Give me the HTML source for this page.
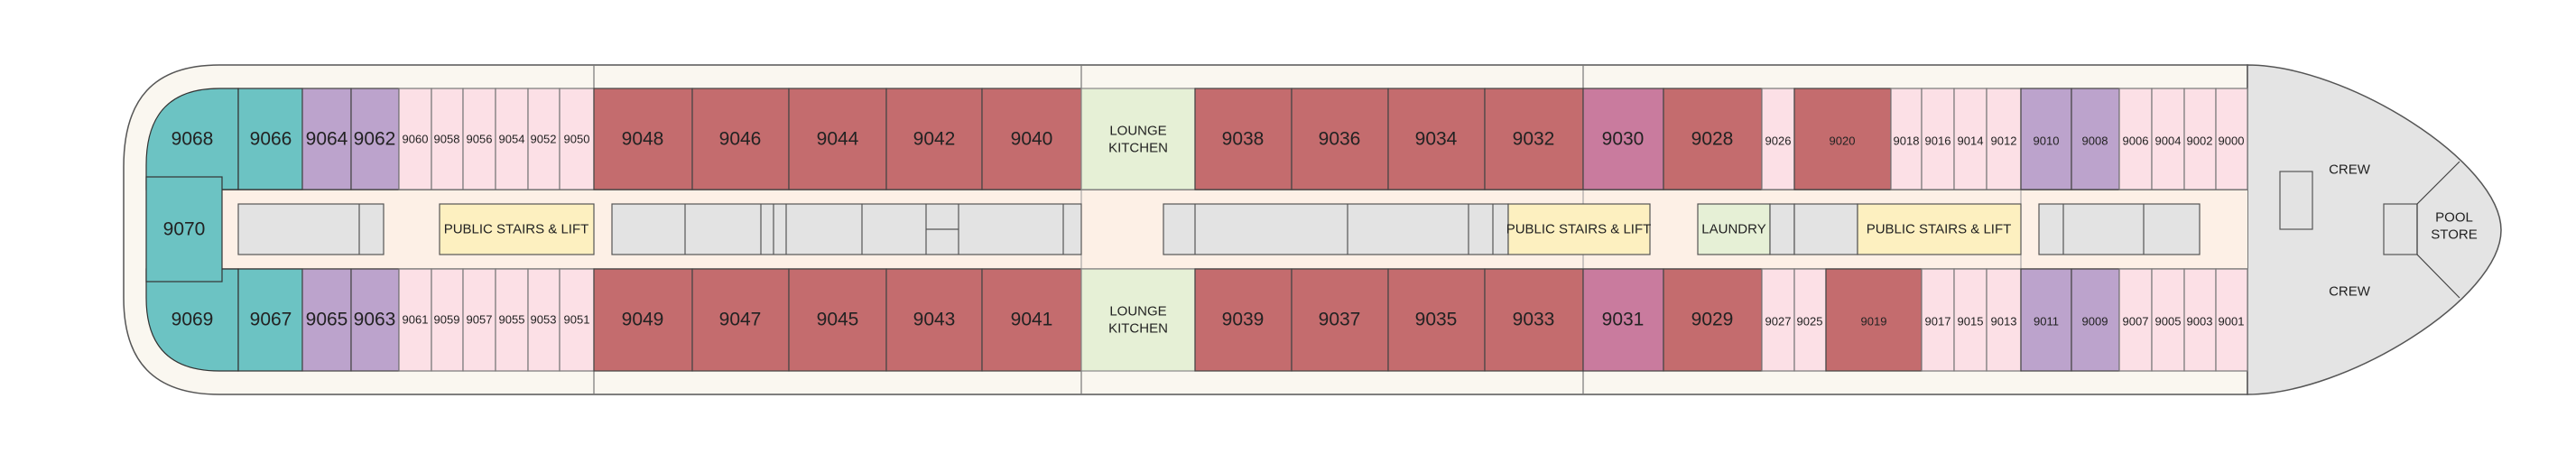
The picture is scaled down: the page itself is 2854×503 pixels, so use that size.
<!DOCTYPE html>
<html><head><meta charset="utf-8"><style>
html,body{margin:0;padding:0;background:#fff;}
svg{display:block;}
text{font-family:"Liberation Sans Narrow","Liberation Sans",sans-serif;fill:#222;text-anchor:middle;dominant-baseline:central;}
.b{font-size:21px;}
.s{font-size:13px;}
.l{font-size:15px;}
.c{stroke:#444;stroke-width:1.2;}
</style></head><body>
<svg width="2854" height="503" viewBox="0 0 2854 503" xmlns="http://www.w3.org/2000/svg">
<path d="M243 72 H2490 V437 H243 C170 437 137 400 137 330 V185 C137 110 170 72 243 72 Z" fill="#faf7f0" stroke="#555" stroke-width="1.5"/>
<path d="M2490 72 C2600 72 2771 180 2771 255 C2771 330 2600 437 2490 437 Z" fill="#e4e4e4" stroke="#555" stroke-width="1.5"/>
<g stroke="#777" stroke-width="1.2">
<line x1="658" y1="72" x2="658" y2="437"/><line x1="1198" y1="72" x2="1198" y2="437"/><line x1="1754" y1="72" x2="1754" y2="437"/>
</g>
<rect x="246" y="210" width="2244" height="88" fill="#fdf0e6"/>
<line x1="246" y1="210" x2="2490" y2="210" stroke="#111" stroke-width="1.5"/>
<line x1="246" y1="298" x2="2490" y2="298" stroke="#111" stroke-width="1.2"/>
<line x1="1198" y1="210" x2="1198" y2="298" stroke="#999"/>
<line x1="1754" y1="210" x2="1754" y2="298" stroke="#999"/>
<line x1="2239" y1="210" x2="2239" y2="298" stroke="#999"/>
<g class="c">
<path d="M162 210 V183 C162 125 190 98 243 98 H264 V210 Z" fill="#6cc3c3" stroke="#333"/>
<rect x="264" y="98" width="71" height="112" fill="#6cc3c3" stroke="#333"/>
<rect x="335" y="98" width="54" height="112" fill="#bca3cc"/>
<rect x="389" y="98" width="53" height="112" fill="#bca3cc"/>
<rect x="442" y="98" width="36" height="112" fill="#fce0e6" stroke="#777"/>
<rect x="478" y="98" width="35" height="112" fill="#fce0e6" stroke="#777"/>
<rect x="513" y="98" width="36" height="112" fill="#fce0e6" stroke="#777"/>
<rect x="549" y="98" width="36" height="112" fill="#fce0e6" stroke="#777"/>
<rect x="585" y="98" width="35" height="112" fill="#fce0e6" stroke="#777"/>
<rect x="620" y="98" width="38" height="112" fill="#fce0e6" stroke="#777"/>
<rect x="658" y="98" width="109" height="112" fill="#c46c6e"/>
<rect x="767" y="98" width="107" height="112" fill="#c46c6e"/>
<rect x="874" y="98" width="108" height="112" fill="#c46c6e"/>
<rect x="982" y="98" width="106" height="112" fill="#c46c6e"/>
<rect x="1088" y="98" width="110" height="112" fill="#c46c6e"/>
<rect x="1198" y="98" width="126" height="112" fill="#e6f0d6" stroke="#888"/>
<rect x="1324" y="98" width="107" height="112" fill="#c46c6e"/>
<rect x="1431" y="98" width="107" height="112" fill="#c46c6e"/>
<rect x="1538" y="98" width="107" height="112" fill="#c46c6e"/>
<rect x="1645" y="98" width="109" height="112" fill="#c46c6e"/>
<rect x="1754" y="98" width="89" height="112" fill="#c97b9e"/>
<rect x="1843" y="98" width="109" height="112" fill="#c46c6e"/>
<rect x="1952" y="98" width="36" height="112" fill="#fce0e6" stroke="#777"/>
<rect x="1988" y="98" width="107" height="112" fill="#c46c6e"/>
<rect x="2095" y="98" width="34" height="112" fill="#fce0e6" stroke="#777"/>
<rect x="2129" y="98" width="36" height="112" fill="#fce0e6" stroke="#777"/>
<rect x="2165" y="98" width="36" height="112" fill="#fce0e6" stroke="#777"/>
<rect x="2201" y="98" width="38" height="112" fill="#fce0e6" stroke="#777"/>
<rect x="2239" y="98" width="56" height="112" fill="#bca3cc"/>
<rect x="2295" y="98" width="53" height="112" fill="#bca3cc"/>
<rect x="2348" y="98" width="36" height="112" fill="#fce0e6" stroke="#777"/>
<rect x="2384" y="98" width="36" height="112" fill="#fce0e6" stroke="#777"/>
<rect x="2420" y="98" width="35" height="112" fill="#fce0e6" stroke="#777"/>
<rect x="2455" y="98" width="35" height="112" fill="#fce0e6" stroke="#777"/>
</g>
<g class="c">
<path d="M162 298 V330 C162 385 190 411 243 411 H264 V298 Z" fill="#6cc3c3" stroke="#333"/>
<rect x="264" y="298" width="71" height="113" fill="#6cc3c3" stroke="#333"/>
<rect x="335" y="298" width="54" height="113" fill="#bca3cc"/>
<rect x="389" y="298" width="53" height="113" fill="#bca3cc"/>
<rect x="442" y="298" width="36" height="113" fill="#fce0e6" stroke="#777"/>
<rect x="478" y="298" width="35" height="113" fill="#fce0e6" stroke="#777"/>
<rect x="513" y="298" width="36" height="113" fill="#fce0e6" stroke="#777"/>
<rect x="549" y="298" width="36" height="113" fill="#fce0e6" stroke="#777"/>
<rect x="585" y="298" width="35" height="113" fill="#fce0e6" stroke="#777"/>
<rect x="620" y="298" width="38" height="113" fill="#fce0e6" stroke="#777"/>
<rect x="658" y="298" width="109" height="113" fill="#c46c6e"/>
<rect x="767" y="298" width="107" height="113" fill="#c46c6e"/>
<rect x="874" y="298" width="108" height="113" fill="#c46c6e"/>
<rect x="982" y="298" width="106" height="113" fill="#c46c6e"/>
<rect x="1088" y="298" width="110" height="113" fill="#c46c6e"/>
<rect x="1198" y="298" width="126" height="113" fill="#e6f0d6" stroke="#888"/>
<rect x="1324" y="298" width="107" height="113" fill="#c46c6e"/>
<rect x="1431" y="298" width="107" height="113" fill="#c46c6e"/>
<rect x="1538" y="298" width="107" height="113" fill="#c46c6e"/>
<rect x="1645" y="298" width="109" height="113" fill="#c46c6e"/>
<rect x="1754" y="298" width="89" height="113" fill="#c97b9e"/>
<rect x="1843" y="298" width="109" height="113" fill="#c46c6e"/>
<rect x="1952" y="298" width="36" height="113" fill="#fce0e6" stroke="#777"/>
<rect x="1988" y="298" width="35" height="113" fill="#fce0e6" stroke="#777"/>
<rect x="2023" y="298" width="106" height="113" fill="#c46c6e"/>
<rect x="2129" y="298" width="36" height="113" fill="#fce0e6" stroke="#777"/>
<rect x="2165" y="298" width="36" height="113" fill="#fce0e6" stroke="#777"/>
<rect x="2201" y="298" width="38" height="113" fill="#fce0e6" stroke="#777"/>
<rect x="2239" y="298" width="56" height="113" fill="#bca3cc"/>
<rect x="2295" y="298" width="53" height="113" fill="#bca3cc"/>
<rect x="2348" y="298" width="36" height="113" fill="#fce0e6" stroke="#777"/>
<rect x="2384" y="298" width="36" height="113" fill="#fce0e6" stroke="#777"/>
<rect x="2420" y="298" width="35" height="113" fill="#fce0e6" stroke="#777"/>
<rect x="2455" y="298" width="35" height="113" fill="#fce0e6" stroke="#777"/>
</g>
<rect x="162" y="196" width="84" height="116" fill="#6cc3c3" stroke="#333" stroke-width="1.2"/>
<g stroke="#555" stroke-width="1.2" fill="#e3e3e3">
<rect x="264" y="226" width="161" height="56"/><line x1="398" y1="226" x2="398" y2="282"/>
<rect x="487" y="226" width="171" height="56" fill="#fdf0c0"/>
<rect x="678" y="226" width="520" height="56"/>
<line x1="759" y1="226" x2="759" y2="282"/><line x1="843" y1="226" x2="843" y2="282"/><line x1="857" y1="226" x2="857" y2="282"/><line x1="871" y1="226" x2="871" y2="282"/><line x1="955" y1="226" x2="955" y2="282"/><line x1="1026" y1="226" x2="1026" y2="282"/><line x1="1062" y1="226" x2="1062" y2="282"/><line x1="1026" y1="254" x2="1062" y2="254"/><line x1="1178" y1="226" x2="1178" y2="282"/>
<rect x="1289" y="226" width="382" height="56"/>
<line x1="1324" y1="226" x2="1324" y2="282"/><line x1="1493" y1="226" x2="1493" y2="282"/><line x1="1627" y1="226" x2="1627" y2="282"/><line x1="1654" y1="226" x2="1654" y2="282"/>
<rect x="1671" y="226" width="157" height="56" fill="#fdf0c0"/>
<rect x="1881" y="226" width="80" height="56" fill="#e6f0d6"/>
<rect x="1961" y="226" width="27" height="56"/>
<rect x="1988" y="226" width="70" height="56"/>
<rect x="2058" y="226" width="181" height="56" fill="#fdf0c0"/>
<rect x="2259" y="226" width="178" height="56"/>
<line x1="2286" y1="226" x2="2286" y2="282"/><line x1="2375" y1="226" x2="2375" y2="282"/>
<rect x="2526" y="190" width="36" height="64"/>
<rect x="2641" y="226" width="37" height="56"/>
</g>
<path d="M2725 179 L2678 226 V282 L2725 330" fill="none" stroke="#444" stroke-width="1.2"/>
<g class="b">
<text x="213" y="154">9068</text><text x="300" y="154">9066</text><text x="362" y="154">9064</text><text x="415" y="154">9062</text>
<text x="213" y="354">9069</text><text x="300" y="354">9067</text><text x="362" y="354">9065</text><text x="415" y="354">9063</text>
<text x="204" y="254">9070</text>
<text x="712" y="154">9048</text><text x="820" y="154">9046</text><text x="928" y="154">9044</text><text x="1035" y="154">9042</text><text x="1143" y="154">9040</text>
<text x="712" y="354">9049</text><text x="820" y="354">9047</text><text x="928" y="354">9045</text><text x="1035" y="354">9043</text><text x="1143" y="354">9041</text>
<text x="1377" y="154">9038</text><text x="1484" y="154">9036</text><text x="1591" y="154">9034</text><text x="1699" y="154">9032</text><text x="1798" y="154">9030</text><text x="1897" y="154">9028</text>
<text x="1377" y="354">9039</text><text x="1484" y="354">9037</text><text x="1591" y="354">9035</text><text x="1699" y="354">9033</text><text x="1798" y="354">9031</text><text x="1897" y="354">9029</text>
</g>
<g class="s">
<text x="460" y="154">9060</text><text x="495" y="154">9058</text><text x="531" y="154">9056</text><text x="567" y="154">9054</text><text x="602" y="154">9052</text><text x="639" y="154">9050</text>
<text x="460" y="354">9061</text><text x="495" y="354">9059</text><text x="531" y="354">9057</text><text x="567" y="354">9055</text><text x="602" y="354">9053</text><text x="639" y="354">9051</text>
<text x="1970" y="156">9026</text><text x="2041" y="156">9020</text><text x="2112" y="156">9018</text><text x="2147" y="156">9016</text><text x="2183" y="156">9014</text><text x="2220" y="156">9012</text><text x="2267" y="156">9010</text><text x="2321" y="156">9008</text><text x="2366" y="156">9006</text><text x="2402" y="156">9004</text><text x="2437" y="156">9002</text><text x="2472" y="156">9000</text>
<text x="1970" y="356">9027</text><text x="2005" y="356">9025</text><text x="2076" y="356">9019</text><text x="2147" y="356">9017</text><text x="2183" y="356">9015</text><text x="2220" y="356">9013</text><text x="2267" y="356">9011</text><text x="2321" y="356">9009</text><text x="2366" y="356">9007</text><text x="2402" y="356">9005</text><text x="2437" y="356">9003</text><text x="2472" y="356">9001</text>
</g>
<g class="l">
<text x="572" y="254">PUBLIC STAIRS &amp; LIFT</text>
<text x="1749" y="254">PUBLIC STAIRS &amp; LIFT</text>
<text x="2148" y="254">PUBLIC STAIRS &amp; LIFT</text>
<text x="1921" y="254">LAUNDRY</text>
<text x="1261" y="145">LOUNGE</text><text x="1261" y="164">KITCHEN</text>
<text x="1261" y="345">LOUNGE</text><text x="1261" y="364">KITCHEN</text>
<text x="2603" y="188">CREW</text><text x="2603" y="323">CREW</text>
<text x="2719" y="241">POOL</text><text x="2719" y="260">STORE</text>
</g>
</svg>
</body></html>
